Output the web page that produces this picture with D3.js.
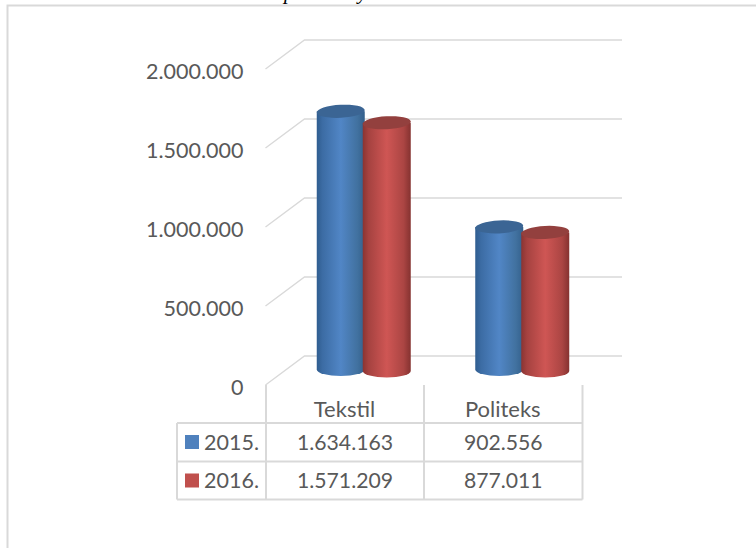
<!DOCTYPE html>
<html><head><meta charset="utf-8">
<script src="https://cdn.jsdelivr.net/npm/d3@7"></script>
<style>html,body{margin:0;padding:0;background:#fff}svg{display:block}text{font-family:Lato,sans-serif}</style>
</head><body><svg id="c" width="756" height="548"></svg>
<script>
const categories = ["Tekstil", "Politeks"];
const seriesNames = ["2015.", "2016."];
const values2015 = [1634163, 902556];
const values2016 = [1571209, 877011];
const tickValues = [0, 500000, 1000000, 1500000, 2000000];
const colors = ["#4f81bd", "#c0504d"];
const fmt = d => d3.format(",")(d).replace(/,/g, ".");

const svg = d3.select("#c");
const defs = svg.append("defs");
const stops = [
  [["0%","#2f5d8f"],["12%","#3c6ca4"],["50%","#5186c6"],["85%","#41719f"],["100%","#33608c"]],
  [["0%","#8a3432"],["12%","#a54240"],["50%","#cf5654"],["85%","#ab4543"],["100%","#853230"]]
];
stops.forEach((s,i)=>{
  const g = defs.append("linearGradient").attr("id","g"+i);
  s.forEach(t=>g.append("stop").attr("offset",t[0]).attr("stop-color",t[1]));
});
const topColor = ["#3b6594","#93403e"];

// frame
svg.append("path").attr("d","M7.5,548V5.5H756").attr("fill","none").attr("stroke","#d9d9d9").attr("stroke-width",2);

// title fragment cut off at the top
const ttl = svg.append("text").attr("y",-1)
  .style("font-family","'Liberation Serif',serif").style("font-style","italic").style("font-size","21px").attr("fill","#000");
ttl.append("tspan").attr("x",284).text("p");
ttl.append("tspan").attr("x",358).text("y");

const y = d3.scaleLinear().domain([0,2000000]).range([385,69]);
const dx = 39, dy = -29, xL = 265.5, xR = 622;
const h = d3.scaleLinear().domain([0,2000000]).range([0,316]);

// gridlines
svg.append("g").selectAll("path").data(tickValues).join("path")
  .attr("d",d=>`M${xL},${y(d)}L${xL+dx},${y(d)+dy}H${xR}`)
  .attr("fill","none").attr("stroke","#d9d9d9").attr("stroke-width",1.4);

// axis labels
svg.append("g").selectAll("text").data(tickValues).join("text")
  .attr("x",243.5).attr("y",d=>y(d)+9.5).attr("text-anchor","end")
  .attr("fill","#595959").style("font-size","21.5px").text(fmt);

// cylinders
const band = d3.scaleBand().domain(categories).range([266,583]);
const sub = d3.scaleBand().domain([0,1]).range([-46,46]);
const rx = 24, ry = 6.5, baseY = [369.5,371], depthShift = 18.5;
[values2015, values2016].forEach((vals,si)=>{
  const g = svg.append("g");
  vals.forEach((v,ci)=>{
    const cx = band(categories[ci]) + band.bandwidth()/2 + depthShift + sub(si) + sub.bandwidth()/2;
    const b = baseY[si], t = b - h(v);
    g.append("path").attr("d",`M${cx-rx},${t}V${b}A${rx},${ry} 0 0 0 ${cx+rx},${b}V${t}Z`).attr("fill",`url(#g${si})`);
    g.append("ellipse").attr("cx",cx).attr("cy",t).attr("rx",rx).attr("ry",ry).attr("transform",`rotate(-3 ${cx} ${t})`).attr("fill",topColor[si]);
  });
});

// data table
const colX = [177,266,424,582.5], rowY = [423,461.5,499.5];
const tbl = svg.append("g").attr("stroke","#d9d9d9").attr("stroke-width",2);
rowY.forEach(r=>tbl.append("line").attr("x1",colX[0]).attr("x2",colX[3]).attr("y1",r).attr("y2",r));
tbl.append("line").attr("x1",colX[0]).attr("x2",colX[0]).attr("y1",rowY[0]).attr("y2",rowY[2]);
colX.slice(1).forEach(x=>tbl.append("line").attr("x1",x).attr("x2",x).attr("y1",385).attr("y2",rowY[2]));

categories.forEach((c,i)=>svg.append("text").attr("x",(colX[i+1]+colX[i+2])/2 - 0.5).attr("y",417).attr("text-anchor","middle")
  .attr("fill","#595959").style("font-size","22px").text(c));
[values2015, values2016].forEach((vals,si)=>{
  const base = rowY[si]+26.5;
  svg.append("rect").attr("x",185).attr("y",rowY[si]+12).attr("width",14).attr("height",14).attr("fill",colors[si]);
  svg.append("text").attr("x",204).attr("y",base).attr("fill","#595959").style("font-size","21.5px").text(seriesNames[si]);
  vals.forEach((v,ci)=>svg.append("text").attr("x",(colX[ci+1]+colX[ci+2])/2).attr("y",base).attr("text-anchor","middle")
    .attr("fill","#595959").style("font-size","21.2px").text(fmt(v)));
});
</script></body></html>
